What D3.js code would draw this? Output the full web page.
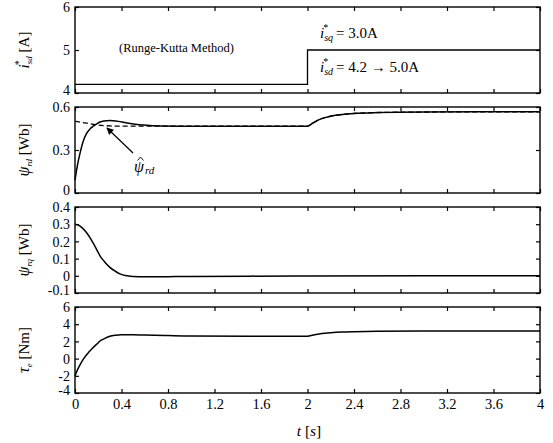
<!DOCTYPE html>
<html><head><meta charset="utf-8">
<script src="https://cdn.jsdelivr.net/npm/d3@7"></script>
<style>body{margin:0;background:#fff}svg{display:block}svg text{font-family:"Liberation Serif","Times New Roman",Times,"DejaVu Serif",serif !important;fill:#000}</style>
</head><body><svg id="c" width="553" height="443" font-family="Liberation Serif"></svg>
<script>
// ---- data ----
const xTicks = [0,0.4,0.8,1.2,1.6,2,2.4,2.8,3.2,3.6,4];
const xTickLabels = ["0","0.4","0.8","1.2","1.6","2","2.4","2.8","3.2","3.6","4"];

const isdT = [0, 2, 4];
const isdV = [4.2, 5.0, 5.0];

const psiRdT = [0,0.02,0.043,0.07,0.1,0.13,0.157,0.19,0.215,0.25,0.3,0.35,0.44,0.52,0.59,0.74,0.9,1.2,1.6,2.0,2.05,2.1,2.15,2.2,2.3,2.4,2.6,3.0,3.5,4.0];
const psiRdV = [0.09,0.19,0.277,0.36,0.416,0.448,0.467,0.484,0.495,0.502,0.505,0.503,0.49,0.48,0.474,0.467,0.466,0.466,0.466,0.466,0.49,0.512,0.526,0.536,0.548,0.555,0.561,0.565,0.566,0.566];

const psiRdHatT = [0,0.05,0.1,0.157,0.2,0.3,0.4,0.5,0.6,0.74,0.9,1.2,1.6,2.0,2.05,2.1,2.15,2.2,2.3,2.4,2.6,3.0,3.5,4.0];
const psiRdHatV = [0.5,0.494,0.487,0.479,0.474,0.468,0.466,0.466,0.466,0.466,0.466,0.466,0.466,0.466,0.49,0.512,0.526,0.536,0.548,0.555,0.561,0.565,0.566,0.566];

const psiRqT = [0,0.03,0.06,0.1,0.13,0.16,0.2,0.215,0.25,0.3,0.35,0.387,0.45,0.5,0.6,0.8,1.0,1.5,2.0,3.0,4.0];
const psiRqV = [0.3,0.295,0.28,0.25,0.22,0.185,0.135,0.116,0.085,0.049,0.025,0.011,0.0,-0.004,-0.006,-0.005,-0.004,-0.002,-0.001,0,0];

const tauT = [0,0.025,0.05,0.075,0.1,0.15,0.2,0.215,0.25,0.3,0.35,0.4,0.5,0.6,0.8,1.0,1.5,2.0,2.05,2.1,2.15,2.2,2.3,2.4,2.6,3.0,3.5,4.0];
const tauV = [-2,-1.2,-0.55,0.0,0.45,1.2,1.85,2.05,2.3,2.6,2.72,2.77,2.78,2.74,2.68,2.63,2.6,2.6,2.75,2.86,2.94,3.0,3.08,3.12,3.17,3.2,3.21,3.22];

const yTicks1 = [4,5,6], yTicks2 = [0,0.3,0.6], yTicks3 = [-0.1,0,0.1,0.2,0.3,0.4], yTicks4 = [-4,-2,0,2,4,6];
const yTickLabels2 = ["0","0.3","0.6"];
const yTickLabels3 = ["-0.1","0","0.1","0.2","0.3","0.4"];

// ---- layout ----
const svg = d3.select("#c");
const SERIF = "Liberation Serif, Times New Roman, serif";
const L = 75, R = 540, H = 86;
const x = d3.scaleLinear().domain([0,4]).range([L,R]);
const zip = (a,b)=>a.map((t,i)=>[t,b[i]]);

const panels = [
  {top:7, dom:[4,6], ticks:yTicks1, labels:yTicks1.map(String)},
  {top:107, dom:[0,0.6], ticks:yTicks2, labels:yTickLabels2},
  {top:207, dom:[-0.1,0.4], ticks:yTicks3, labels:yTickLabels3},
  {top:307, dom:[-4,6], ticks:yTicks4, labels:yTicks4.map(String)}
];
panels.forEach(p=>{ p.y = d3.scaleLinear().domain(p.dom).range([p.top+H,p.top]); });

panels.forEach((p,i)=>{
  const g = svg.append("g");
  const tl = 4;
  const style = a=>{a.attr("font-family",SERIF); a.select(".domain").remove(); a.selectAll("line").attr("stroke","#000").attr("stroke-width",1.2);};
  g.append("g").attr("transform",`translate(0,${p.top+H})`)
    .call(d3.axisBottom(x).tickValues(xTicks).tickSizeInner(-tl).tickSizeOuter(0).tickFormat(i===3?((d,j)=>xTickLabels[j]):""))
    .call(a=>{style(a); a.selectAll("text").attr("font-size",14.5).attr("dy",0).attr("y",16);});
  g.append("g").attr("transform",`translate(0,${p.top})`)
    .call(d3.axisTop(x).tickValues(xTicks).tickSizeInner(-tl).tickSizeOuter(0).tickFormat(""))
    .call(style);
  g.append("g").attr("transform",`translate(${L},0)`)
    .call(d3.axisLeft(p.y).tickValues(p.ticks).tickSizeInner(-tl).tickSizeOuter(0).tickFormat((d,j)=>p.labels[j]))
    .call(a=>{style(a); a.selectAll("text").attr("font-size",14).attr("x",-5)
      .attr("dy",(d,j)=> j===0 ? "0.1em" : "0.34em");});
  g.append("g").attr("transform",`translate(${R},0)`)
    .call(d3.axisRight(p.y).tickValues(p.ticks).tickSizeInner(-tl).tickSizeOuter(0).tickFormat(""))
    .call(style);
  g.append("rect").attr("x",L).attr("y",p.top).attr("width",R-L).attr("height",H)
    .attr("fill","none").attr("stroke","#000").attr("stroke-width",1.4);
});

function drawLine(p, T, V, opts={}){
  const line = d3.line().x(d=>x(d[0])).y(d=>p.y(d[1])).curve(opts.curve||d3.curveMonotoneX);
  svg.append("path").attr("d",line(zip(T,V))).attr("fill","none").attr("stroke","#000")
    .attr("stroke-width",opts.w||1.5).attr("stroke-dasharray",opts.dash||null);
}
drawLine(panels[0], isdT, isdV, {curve:d3.curveStepAfter, w:1.3});
drawLine(panels[1], psiRdHatT, psiRdHatV, {dash:"5,3", w:1.3});
drawLine(panels[1], psiRdT, psiRdV);
drawLine(panels[2], psiRqT, psiRqV);
drawLine(panels[3], tauT, tauV);

// ---- annotations ----
const fs = 15;
svg.append("text").attr("x",119).attr("y",52).attr("font-size",12.5).text("(Runge-Kutta Method)");

function iLabel(xx, yy, sub, rest){
  const t = svg.append("text").attr("x",xx).attr("y",yy).attr("font-size",fs);
  t.append("tspan").attr("font-style","italic").text("i");
  t.append("tspan").attr("font-size",10).attr("dx",-1).attr("dy",-7).text("*");
  t.append("tspan").attr("font-size",10).attr("font-style","italic").attr("dx",-4).attr("dy",10).text(sub);
  t.append("tspan").attr("dy",-3).attr("dx",3).text("= " + rest);
}
iLabel(320, 38, "sq", "3.0A");
iLabel(320, 72, "sd", "4.2 \u2192 5.0A");

// arrow
svg.append("defs").append("marker").attr("id","ah").attr("viewBox","0 0 10 10").attr("refX",9).attr("refY",5)
  .attr("markerWidth",9).attr("markerHeight",7).attr("orient","auto").attr("markerUnits","userSpaceOnUse")
  .append("path").attr("d","M0,0L10,5L0,10z").attr("fill","#000");
svg.append("line").attr("x1",133).attr("y1",153).attr("x2",107).attr("y2",128)
  .attr("stroke","#000").attr("stroke-width",1.2).attr("marker-end","url(#ah)");
const ph = svg.append("text").attr("x",134).attr("y",172).attr("font-size",16);
ph.append("tspan").attr("font-style","italic").text("\u03C8");
ph.append("tspan").attr("font-size",11).attr("font-style","italic").attr("dy",2).attr("dx",1).text("rd");
// hat over psi
svg.append("path").attr("d","M137.5,160.5 L140.5,157 L143.5,160.5").attr("fill","none").attr("stroke","#000").attr("stroke-width",0.9);

// y axis labels
function yLabel(cy, build){
  const t = svg.append("text").attr("transform",`translate(29,${cy}) rotate(-90)`).attr("text-anchor","middle").attr("font-size",fs);
  build(t);
}
yLabel(50, t=>{
  t.append("tspan").attr("font-style","italic").text("i");
  t.append("tspan").attr("font-size",10).attr("dx",-1).attr("dy",-7).text("*");
  t.append("tspan").attr("font-size",9).attr("font-style","italic").attr("dx",-4).attr("dy",10).text("sd");
  t.append("tspan").attr("dy",-3).text(" [A]");
});
[[150,"rd","[Wb]"],[250,"rq","[Wb]"]].forEach(([cy,sub,u])=>yLabel(cy,t=>{
  t.append("tspan").attr("font-style","italic").attr("font-size",16).text("\u03C8");
  t.append("tspan").attr("font-size",9).attr("font-style","italic").attr("dy",3).text(sub);
  t.append("tspan").attr("dy",-3).text(" "+u);
}));
yLabel(350, t=>{
  t.append("tspan").attr("font-style","italic").attr("font-size",16).text("\u03C4");
  t.append("tspan").attr("font-size",9).attr("font-style","italic").attr("dy",3).text("e");
  t.append("tspan").attr("dy",-3).text(" [Nm]");
});

// x label
const xl = svg.append("text").attr("x",309).attr("y",436).attr("text-anchor","middle").attr("font-size",15.5);
xl.append("tspan").attr("font-style","italic").text("t");
xl.append("tspan").text(" [");
xl.append("tspan").attr("font-style","italic").text("s");
xl.append("tspan").text("]");
</script></body></html>
